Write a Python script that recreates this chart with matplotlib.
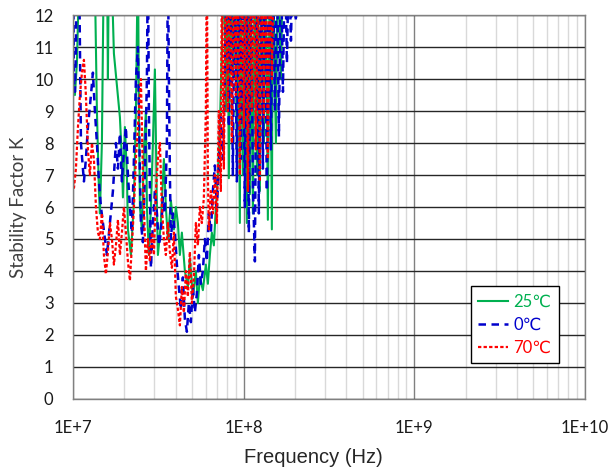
import numpy as np
import matplotlib.pyplot as plt

# frequency in MHz, stability factor K (values > 12 run off the top of the chart)
f_25 = [10.0, 10.27, 10.55, 10.84, 11.75, 13.45, 13.82, 14.2, 14.39, 14.78, 15.19, 15.82, 16.03, 16.25,
        16.92, 17.38, 18.1, 18.85, 19.36, 19.63, 20.16, 20.72, 21.0, 21.87, 22.77, 23.39, 24.03, 24.36,
        24.69, 25.36, 26.06, 26.77, 27.13, 27.87, 28.64, 29.42, 30.22, 31.05, 31.47, 32.77, 34.12, 35.05,
        36.01, 37.5, 39.05, 40.11, 41.21, 42.34, 43.49, 45.29, 47.16, 48.45, 50.45, 52.54, 53.97, 55.45,
        57.74, 60.12, 61.77, 63.46, 65.19, 66.98, 68.81, 70.69, 72.62, 74.61, 76.65, 78.75, 80.9, 82.0,
        84.24, 86.54, 88.91, 91.34, 92.58, 95.11, 96.4, 99.04, 101.7, 104.5, 106.0, 108.9, 110.3, 113.4,
        116.5, 119.7, 121.3, 124.6, 128.0, 131.5, 135.1, 138.8, 142.6, 146.5, 148.5, 154.7, 158.9, 165.5,
        170.1]
k_25 = [10.2, 9.5, 10.5, 13, 14, 13, 9, 6.5, 5.8, 8, 14, 14, 10, 14,
        13, 10.8, 9.8, 8.8, 7.5, 6.3, 8.5, 7, 5.3, 4.5, 6.2, 9, 14, 9,
        6, 5.3, 7.8, 9, 6, 4.5, 6, 8, 10.3, 6, 4.5, 5.5, 7.5, 6,
        5, 6.2, 5.3, 6, 5.5, 4.5, 5.2, 4, 3.5, 4.4, 3.2, 4, 3, 3.8,
        3.4, 4.2, 3.6, 4.5, 5.2, 4.8, 6, 7, 8.5, 11, 14, 9, 14, 6.9,
        14, 10, 14, 7.5, 14, 5.5, 14, 7, 14, 5.5, 14, 6.4, 14, 5.8,
        14, 7, 14, 6.5, 14, 8, 14, 5.6, 14, 5.3, 14, 8, 14, 10,
        14]

f_0 = [10.0, 10.14, 10.27, 10.41, 10.55, 10.84, 11.14, 11.44, 11.6, 11.91, 12.24, 12.75, 13.09, 13.45,
       13.82, 14.2, 14.59, 14.99, 15.4, 15.82, 16.47, 17.15, 17.86, 18.35, 18.85, 19.36, 19.89, 20.44,
       21.0, 21.57, 22.16, 22.77, 23.39, 24.03, 24.69, 25.02, 25.71, 26.41, 27.13, 27.5, 27.87, 28.25,
       28.64, 29.42, 30.22, 31.05, 31.9, 32.77, 33.66, 34.58, 35.53, 36.01, 36.5, 37.0, 37.5, 38.52,
       39.58, 40.66, 41.77, 42.91, 44.08, 45.29, 46.53, 47.8, 49.11, 50.45, 51.83, 53.25, 54.71, 56.2,
       57.74, 59.32, 60.94, 62.61, 64.32, 66.08, 67.89, 69.74, 71.65, 73.61, 75.62, 77.69, 79.82, 82.0,
       84.24, 86.54, 88.91, 91.34, 93.84, 96.4, 99.04, 101.7, 104.5, 107.4, 110.3, 113.4, 116.5, 119.7,
       122.9, 126.3, 129.8, 133.3, 137.0, 140.7, 144.6, 148.5, 152.6, 156.8, 161.1, 165.5, 170.1, 174.7,
       179.5, 184.4, 189.5, 194.7, 202.7, 208.3]
k_0 = [14, 10, 9.6, 11, 14, 14, 8, 7.2, 6.8, 7.5, 8.5, 9.5, 10.2, 9,
       8, 6.8, 6, 5.5, 5, 4.5, 5.5, 6.5, 8, 7.2, 8.3, 6.8, 7.8, 8.5,
       7, 6, 5.2, 7.5, 10, 11, 7, 5.5, 4.9, 7, 10, 14, 9, 6.5,
       4.1, 5.5, 6.5, 5.8, 4.8, 5.2, 6.3, 5.8, 8, 14, 10, 7, 5, 5.8,
       5.2, 4.2, 3.5, 2.8, 3.8, 2.5, 2.1, 3.0, 2.4, 3.5, 2.7, 3.3, 4.5, 3.6,
       4.0, 5.0, 4.3, 5.8, 5.2, 6.5, 7.3, 6.0, 7.2, 8.8, 7.5, 10, 14, 8.5,
       14, 7, 14, 6.8, 14, 7.5, 14, 6, 14, 5.2, 14, 6.7, 4.3, 14,
       5.8, 14, 7.2, 14, 6.5, 14, 7.8, 14, 9, 14, 8.2, 14, 9.6, 14,
       10.5, 14, 11.2, 14, 11.8, 14]

f_70 = [10.0, 10.14, 10.41, 10.7, 10.99, 11.29, 11.6, 11.91, 12.24, 12.57, 12.92, 13.27, 13.64, 14.01,
        14.39, 14.78, 15.19, 15.6, 16.03, 16.47, 16.92, 17.38, 17.86, 18.35, 18.85, 19.36, 19.89, 20.44,
        21.0, 21.57, 22.16, 22.77, 23.39, 24.03, 24.69, 25.02, 25.71, 26.41, 26.77, 27.5, 28.25, 29.02,
        29.82, 30.63, 31.47, 32.33, 33.21, 34.12, 35.05, 36.01, 37.0, 38.01, 39.05, 40.11, 41.21, 42.34,
        43.49, 44.68, 45.91, 47.16, 48.45, 49.78, 51.14, 52.54, 53.97, 55.45, 56.97, 58.52, 60.12, 60.94,
        61.77, 62.61, 64.32, 66.08, 67.89, 69.74, 71.65, 73.61, 74.61, 76.65, 78.75, 80.9, 83.11, 85.38,
        87.72, 90.12, 92.58, 95.11, 97.71, 100.4, 103.1, 106.0, 108.9, 111.8, 114.9, 118.1, 121.3, 124.6,
        128.0, 131.5, 135.1, 138.8, 142.6, 146.5, 150.6]
k_70 = [6.8, 6.6, 7.2, 8.5, 9.5, 10.2, 10.6, 9.5, 7.8, 7, 8, 7.5, 6, 5.2,
        5.0, 5.8, 4.5, 3.9, 4.6, 5.5, 5.0, 4.2, 4.8, 5.6, 4.5, 5.2, 6.0, 5.2,
        4.3, 3.7, 4.8, 6, 7.5, 8.5, 9.5, 10, 7, 5, 4, 5, 4.3, 5.2,
        4.5, 6.5, 7.5, 8.0, 6, 5, 4.5, 5.5, 4.6, 4.1, 5.2, 3.2, 2.8, 2.3,
        3.5, 2.7, 4.0, 3.2, 4.6, 3.0, 3.8, 5.5, 4.8, 6.0, 5.5, 6.3, 9, 14,
        7, 5.3, 6.5, 5.8, 7.0, 5.5, 9, 6.5, 14, 7.2, 14, 9, 14, 8,
        14, 9.5, 14, 7, 14, 8.5, 14, 6.5, 14, 9, 14, 7.8, 14, 6.8,
        14, 8.8, 14, 7.5, 14, 10, 14]

x_ticks = [1e7, 1e8, 1e9, 1e10]
x_tick_labels = ['1E+7', '1E+8', '1E+9', '1E+10']

fig = plt.figure(figsize=(6.13, 4.71), dpi=100)
ax = fig.add_axes([0.119, 0.153, 0.835, 0.815])

ax.plot(np.array(f_25) * 1e6, k_25, color='#00b050', lw=1.5, label='25℃')
ax.plot(np.array(f_0) * 1e6, k_0, color='#0000cc', lw=1.8, ls=(0, (3, 2.2)), label='0℃')
ax.plot(np.array(f_70) * 1e6, k_70, color='#ff0000', lw=1.6, ls=(0, (1.5, 1.0)), label='70℃')

ax.set_xscale('log')
ax.set_xlim(1e7, 1e10)
ax.set_ylim(0, 12)
ax.set_yticks(range(0, 13))
ax.set_xticks(x_ticks)
ax.set_xticklabels(x_tick_labels)
ax.xaxis.set_minor_locator(plt.matplotlib.ticker.LogLocator(base=10, subs=np.arange(2, 10)))
ax.xaxis.set_minor_formatter(plt.NullFormatter())

ax.grid(True, which='minor', axis='x', color='#d9d9d9', lw=1)
ax.grid(True, which='major', axis='x', color='#808080', lw=1)
ax.grid(True, which='major', axis='y', color='#262626', lw=1)
ax.set_axisbelow(True)
for s in ax.spines.values():
    s.set_color('#808080')
    s.set_linewidth(1)

ax.tick_params(which='both', length=0, labelsize=12, colors='#1a1a1a')
ax.tick_params(axis='x', pad=15)
ax.tick_params(axis='y', pad=14)
for lab in ax.get_xticklabels() + ax.get_yticklabels():
    lab.set_family(['Lato', 'DejaVu Sans'])

ax.set_xlabel('Frequency (Hz)', family='Liberation Sans', fontsize=14.5, color='#262626')
ax.xaxis.set_label_coords(0.47, -0.128)
ax.set_ylabel('Stability Factor K', family=['Lato', 'DejaVu Sans'], fontsize=13.5, color='#404040')
ax.yaxis.set_label_coords(-0.09, 0.5)

leg = ax.legend(loc='upper left', bbox_to_anchor=(0.777, 0.294), borderaxespad=0,
                fancybox=False, framealpha=1, edgecolor='black', handlelength=1.8, handletextpad=0.3,
                prop={'family': ['Lato', 'DejaVu Sans'], 'size': 12}, borderpad=0.45, labelspacing=0.42)
leg.get_frame().set_linewidth(1)
for txt, c in zip(leg.get_texts(), ['#00b050', '#0000cc', '#ff0000']):
    txt.set_color(c)

fig.savefig('out.png', dpi=100)
